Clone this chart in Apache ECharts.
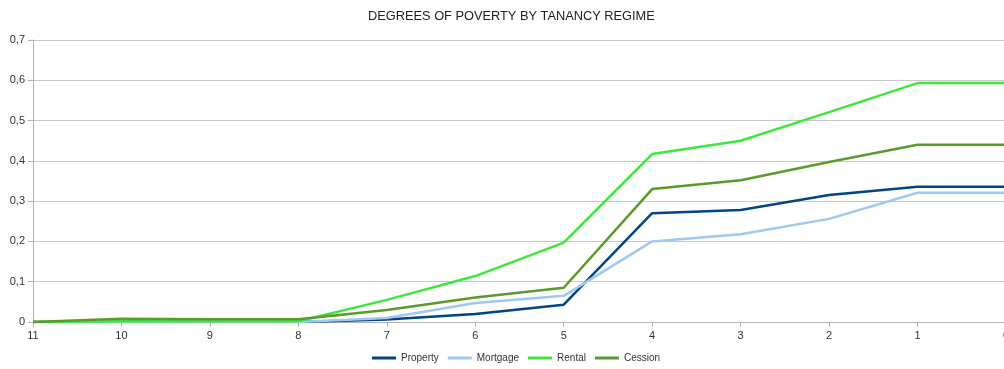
<!DOCTYPE html>
<html>
<head>
<meta charset="utf-8">
<script src="https://cdn.jsdelivr.net/npm/echarts@6/dist/echarts.min.js"></script>
<style>
  html, body { margin: 0; padding: 0; background: #fff; overflow: hidden; }
  #chart { width: 1004px; height: 369px; }
</style>
</head>
<body>
<div id="chart"></div>
<script>
// Poverty degree levels, from 11 down to 0
const categories = ['11', '10', '9', '8', '7', '6', '5', '4', '3', '2', '1', '0'];

const property = [0, 0, 0, 0, 0.006, 0.02, 0.043, 0.27, 0.278, 0.315, 0.336, 0.336];
const mortgage = [0, 0, 0, 0, 0.01, 0.047, 0.065, 0.2, 0.218, 0.256, 0.321, 0.321];
const rental   = [0, 0.002, 0.002, 0.002, 0.055, 0.114, 0.197, 0.417, 0.45, 0.521, 0.593, 0.593];
const cession  = [0, 0.008, 0.007, 0.007, 0.03, 0.061, 0.085, 0.33, 0.352, 0.397, 0.44, 0.44];

const seriesNames = ['Property', 'Mortgage', 'Rental', 'Cession'];
const seriesColors = ['#004586', '#9fc9f0', '#3de83a', '#5c9a2c'];
const seriesData = [property, mortgage, rental, cession];

const chart = echarts.init(document.getElementById('chart'), null, { renderer: 'canvas' });

const font = 'Liberation Sans, Arial, sans-serif';

chart.setOption({
  animation: false,
  backgroundColor: '#fff',
  title: {
    text: 'DEGREES OF POVERTY BY TANANCY REGIME',
    left: 363,
    top: 5,
    textStyle: { fontFamily: font, fontSize: 12.8, fontWeight: 'normal', color: '#222' }
  },
  legend: {
    data: seriesNames,
    top: 348,
    left: 367,
    itemWidth: 24,
    itemHeight: 3,
    itemGap: 9,
    icon: 'rect',
    textStyle: { fontFamily: font, fontSize: 10, color: '#333' }
  },
  // plot runs past the right edge so the last level sits on the border
  grid: { left: 33, width: 973, top: 40, height: 282, containLabel: false, outerBoundsMode: 'none' },
  xAxis: {
    type: 'category',
    data: categories,
    boundaryGap: false,
    axisLine: { lineStyle: { color: '#b3b3b3', width: 1 } },
    axisTick: { show: true, alignWithLabel: true, length: 5, lineStyle: { color: '#b3b3b3' } },
    axisLabel: { fontFamily: font, fontSize: 11, color: '#333', margin: 8 },
    splitLine: { show: false }
  },
  yAxis: {
    type: 'value',
    min: 0,
    max: 0.7,
    interval: 0.1,
    axisLine: { show: true, lineStyle: { color: '#b3b3b3', width: 1 } },
    axisTick: { show: true, length: 5, lineStyle: { color: '#b3b3b3' } },
    axisLabel: {
      fontFamily: font, fontSize: 11, color: '#333', margin: 8,
      formatter: v => String(Math.round(v * 10) / 10).replace('.', ',')
    },
    splitLine: { show: true, lineStyle: { color: '#c8c8c8', width: 1 } }
  },
  series: seriesNames.map((name, i) => ({
    name,
    type: 'line',
    data: seriesData[i],
    symbol: 'none',
    color: seriesColors[i],
    lineStyle: { width: 2.5, color: seriesColors[i] },
    z: 2 + i
  }))
});
</script>
</body>
</html>
